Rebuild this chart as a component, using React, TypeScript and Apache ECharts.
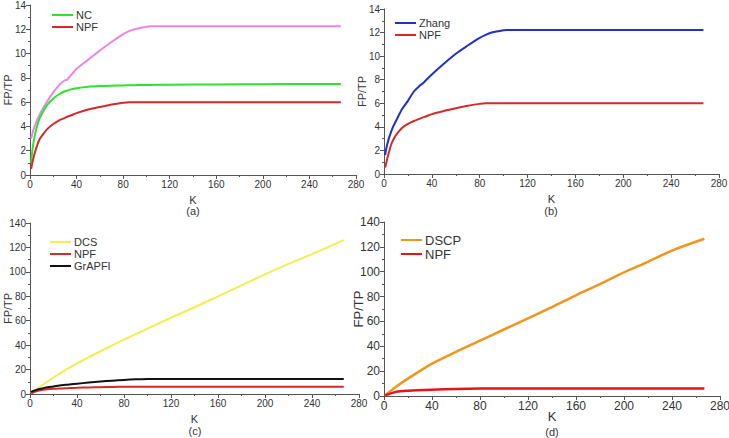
import React, { useEffect, useRef } from "react";
import * as echarts from "echarts";

// K values for saturating curves
const kSat = [1, 2, 4, 6, 8, 10, 15, 20, 25, 30, 32, 35, 40, 50, 60, 70, 80, 85, 90, 100, 103, 120, 160, 200, 240, 267];
// (a)
const pinkA = [3.0, 3.4, 4.0, 4.5, 4.9, 5.3, 6.1, 6.8, 7.4, 7.8, 7.85, 8.2, 8.75, 9.5, 10.25, 10.95, 11.6, 11.85, 12.0, 12.2, 12.25, 12.25, 12.25, 12.25, 12.25, 12.25];
const ncA = [1.0, 2.0, 3.2, 4.0, 4.6, 5.0, 5.8, 6.3, 6.65, 6.9, 6.95, 7.05, 7.15, 7.27, 7.33, 7.36, 7.38, 7.39, 7.4, 7.42, 7.42, 7.44, 7.46, 7.48, 7.5, 7.5];
const npfA = [0.5, 1.0, 1.8, 2.4, 2.9, 3.2, 3.8, 4.2, 4.5, 4.7, 4.8, 4.9, 5.1, 5.4, 5.6, 5.8, 5.95, 6.0, 6.0, 6.0, 6.0, 6.0, 6.0, 6.0, 6.0, 6.0];
// (b)
const zhangB = [1.6, 2.2, 3.0, 3.6, 4.1, 4.5, 5.5, 6.2, 7.0, 7.5, 7.65, 7.95, 8.45, 9.35, 10.2, 10.9, 11.55, 11.8, 12.0, 12.2, 12.22, 12.22, 12.22, 12.22, 12.22, 12.22];
const npfB = [0.55, 1.0, 1.8, 2.5, 2.95, 3.3, 3.9, 4.25, 4.5, 4.7, 4.78, 4.88, 5.08, 5.35, 5.58, 5.8, 5.95, 6.0, 6.0, 6.0, 6.0, 6.0, 6.0, 6.0, 6.0, 6.0];
// (c)
const grapfiC = [1.6, 2.2, 3.0, 3.6, 4.1, 4.5, 5.5, 6.2, 7.0, 7.5, 7.65, 7.95, 8.45, 9.35, 10.2, 10.9, 11.55, 11.8, 12.0, 12.2, 12.22, 12.22, 12.22, 12.22, 12.22, 12.22];
const npfC = [0.55, 1.0, 1.8, 2.5, 2.95, 3.3, 3.9, 4.25, 4.5, 4.7, 4.78, 4.88, 5.08, 5.35, 5.58, 5.8, 5.95, 6.0, 6.0, 6.0, 6.0, 6.0, 6.0, 6.0, 6.0, 6.0];
// linear-ish curves
const kLin = [1, 10, 20, 40, 60, 80, 100, 120, 140, 160, 180, 200, 220, 240, 267];
const dcsC = [0.6, 7, 13.5, 25, 35, 44.5, 53.5, 62.5, 71, 80, 89, 98, 106.5, 114.5, 126];
// (d)
const dscpD = [0.6, 7.5, 14, 26, 35.5, 44.5, 53.5, 62.5, 71.5, 81, 90, 99.5, 108, 117, 126.5];
const npfD = [0.55, 3.3, 4.25, 5.08, 5.58, 5.95, 6.0, 6.0, 6.0, 6.0, 6.0, 6.0, 6.0, 6.0, 6.0];

const xTicks = { min: 0, max: 280, interval: 40 };
const yTicksSmall = { min: 0, max: 14, interval: 2 };
const yTicksLarge = { min: 0, max: 140, interval: 20 };

const zip = (k: number[], v: number[]) => k.map((x, i) => [x, v[i]]);

const FONT = "Liberation Sans";

export default function App() {
  const ref = useRef<HTMLDivElement>(null);
  useEffect(() => {
    const chart = echarts.init(ref.current!, undefined, { renderer: "svg" });

    const grids = [
      { left: 30, top: 5, width: 326, height: 170 },
      { left: 384, top: 9, width: 335, height: 165 },
      { left: 30, top: 223, width: 329, height: 171 },
      { left: 384, top: 222, width: 336, height: 174 },
    ].map((g) => ({ ...g, outerBoundsMode: "none" }));
    const big = [false, false, false, true];

    const axisCommon = (i: number) => ({
      gridIndex: i,
      axisLine: { show: true, lineStyle: { color: "#555", width: 1 } },
      axisTick: { show: true, length: 4, lineStyle: { color: "#555" } },
      minorTick: { show: true, splitNumber: 2, length: 2, lineStyle: { color: "#555" } },
      splitLine: { show: false },
      axisLabel: {
        color: "#333",
        fontSize: big[i] ? 12 : 10,
        fontFamily: FONT,
        margin: 4,
        showMaxLabel: true,
        showMinLabel: true,
        hideOverlap: false,
      },
      nameMoveOverlap: false,
      nameTextStyle: { color: "#333", fontSize: big[i] ? 13 : 11, fontFamily: FONT },
    });

    const xAxis = grids.map((_, i) => ({
      type: "value",
      ...xTicks,
      ...axisCommon(i),
      name: "K",
      nameLocation: "middle",
      nameGap: big[i] ? 14 : 19,
    }));
    const yAxis = grids.map((_, i) => ({
      type: "value",
      ...(i < 2 ? yTicksSmall : yTicksLarge),
      ...axisCommon(i),
      name: "FP/TP",
      nameLocation: "middle",
      nameGap: big[i] ? 19 : 17,
    }));

    const line = (name: string, data: number[][], color: string, gi: number, width = 2) => ({
      type: "line",
      name,
      data,
      xAxisIndex: gi,
      yAxisIndex: gi,
      showSymbol: false,
      symbol: "none",
      lineStyle: { color, width },
      itemStyle: { color },
      smooth: 0.3,
    });

    const cRed = "#d42a2a";
    const series = [
      line("Zhang-a", zip(kSat, pinkA), "#ea84ea", 0),
      line("NC", zip(kSat, ncA), "#2fe22f", 0),
      line("NPF", zip(kSat, npfA), cRed, 0),
      line("Zhang", zip(kSat, zhangB), "#2030c8", 1),
      line("NPF", zip(kSat, npfB), cRed, 1),
      line("DCS", zip(kLin, dcsC), "#f2ee50", 2),
      line("NPF", zip(kSat, npfC), cRed, 2),
      line("GrAPFI", zip(kSat, grapfiC), "#111111", 2),
      line("DSCP", zip(kLin, dscpD), "#f0961e", 3, 2.5),
      line("NPF", zip(kLin, npfD), "#e8141c", 3, 2.5),
    ];

    const legend = (left: number, top: number, items: { name: string; color: string }[], fs: number) => ({
      left,
      top,
      orient: "vertical",
      icon: "rect",
      itemWidth: 21,
      itemHeight: 2,
      itemGap: 0,
      selectedMode: false,
      textStyle: { color: "#333", fontSize: fs, fontFamily: FONT, lineHeight: fs + 1, padding: [0, 0, 0, -2] },
      data: items.map((it) => ({ name: it.name, itemStyle: { color: it.color } })),
    });

    const sub = (x: number, y: number, t: string, fs: number) => ({
      type: "text",
      x,
      y,
      style: { text: t, fill: "#333", fontSize: fs, fontFamily: FONT, textAlign: "center", textVerticalAlign: "middle" },
    });

    chart.setOption({
      animation: false,
      backgroundColor: "#ffffff",
      grid: grids,
      xAxis,
      yAxis,
      series,
      legend: [
        legend(47, 4, [{ name: "NC", color: "#2fe22f" }, { name: "NPF", color: cRed }], 11),
        legend(390, 12, [{ name: "Zhang", color: "#2030c8" }, { name: "NPF", color: cRed }], 11),
        legend(45, 231, [{ name: "DCS", color: "#f2ee50" }, { name: "NPF", color: cRed }, { name: "GrAPFI", color: "#111111" }], 11),
        legend(396, 228, [{ name: "DSCP", color: "#f0961e" }, { name: "NPF", color: "#e8141c" }], 13),
      ],
      graphic: [sub(193, 211, "(a)", 11), sub(551, 211, "(b)", 11), sub(195, 431, "(c)", 11), sub(552, 432, "(d)", 11)],
    });
    return () => chart.dispose();
  }, []);
  return <div ref={ref} style={{ position: "fixed", left: 0, top: 0, width: 729, height: 438 }} />;
}
